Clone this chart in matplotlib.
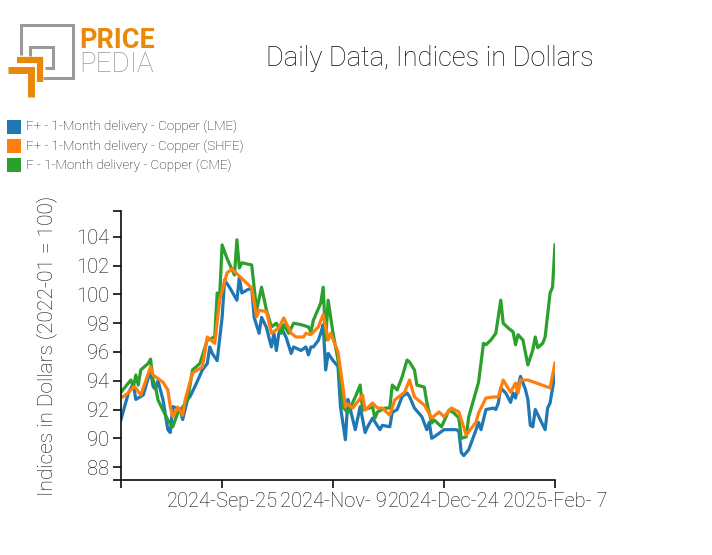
import matplotlib
matplotlib.use("Agg")
import matplotlib.pyplot as plt
from matplotlib.patches import Rectangle
from matplotlib.lines import Line2D
import pandas as pd

plt.rcParams['font.family'] = ['Roboto', 'DejaVu Sans']

START = pd.Timestamp("2024-08-15")
END = pd.Timestamp("2025-02-07")

# days after START
lme_days = [0, 3, 5, 6, 9, 12, 13, 14, 15, 17, 19, 20, 21, 24, 25, 27, 28, 30, 33, 35,
            36, 37, 39, 41, 42, 44, 47, 48, 49, 51, 53, 54, 56, 57, 59, 60, 61, 62, 63, 64,
            65, 67, 69, 70, 73, 75, 76, 77, 78, 80, 81, 82, 83, 84, 86, 88, 89, 91, 92, 93,
            95, 97, 99, 100, 102, 105, 106, 109, 110, 112, 114, 116, 117, 119, 122, 124, 125, 126, 127, 131,
            136, 137, 138, 139, 141, 144, 145, 146, 148, 151, 152, 153, 154, 156, 158, 159, 160, 162, 164, 165,
            166, 167, 168, 170, 172, 173, 174, 176]
lme = [91.3, 93.15, 93.8, 92.7, 93.0, 94.75, 93.6, 93.4, 94.0, 92.7, 90.6, 90.4, 92.2, 92.0, 91.3, 92.7, 92.9, 93.6, 94.75, 95.2,
       96.35, 95.9, 95.4, 98.4, 101.0, 100.5, 99.6, 101.2, 100.1, 100.3, 100.45, 98.4, 97.3, 98.4, 97.7, 97.0, 96.35, 97.3, 96.1, 97.3,
       97.7, 97.0, 95.9, 96.35, 96.1, 96.35, 95.8, 96.35, 96.35, 96.8, 97.3, 97.9, 94.75, 95.9, 95.4, 95.0, 92.2, 89.9, 92.7, 92.0,
       90.6, 92.2, 90.4, 90.8, 91.4, 90.6, 90.9, 90.8, 91.8, 92.0, 92.9, 93.15, 92.9, 92.1, 91.5, 90.6, 91.1, 90.0, 90.1, 90.6,
       90.6, 90.5, 89.0, 88.8, 89.2, 90.6, 91.1, 90.6, 92.0, 92.1, 92.0, 92.45, 93.5, 93.15, 92.5, 93.15, 92.8, 94.3, 93.4, 92.7,
       90.9, 90.8, 92.0, 91.3, 90.6, 92.1, 92.45, 94.5]

shfe_days = [0, 3, 5, 6, 8, 12, 13, 17, 19, 20, 21, 23, 25, 26, 29, 33, 35, 38, 40, 43,
             45, 53, 55, 56, 59, 61, 64, 66, 69, 71, 74, 75, 77, 80, 82, 84, 85, 88, 90, 91,
             92, 94, 98, 99, 102, 104, 106, 109, 111, 115, 117, 119, 123, 126, 129, 131, 134, 137, 140, 144,
             145, 148, 151, 153, 155, 158, 160, 161, 162, 165, 174, 176]
shfe = [92.8, 93.15, 93.56, 93.5, 93.0, 94.96, 94.4, 93.9, 93.36, 92.17, 91.5, 92.17, 91.6, 92.66, 94.54, 94.96, 97.04, 96.6, 99.6, 101.5,
        101.77, 100.45, 98.44, 98.9, 98.8, 97.3, 97.67, 98.37, 97.3, 97.04, 97.04, 97.3, 97.2, 97.74, 98.6, 96.83, 97.3, 96.0, 93.56, 92.17,
        92.38, 92.1, 93.0, 91.96, 92.45, 92.1, 92.1, 91.6, 92.66, 93.2, 94.05, 92.87, 92.31, 91.41, 91.83, 91.5, 92.1, 91.83, 90.22, 91.13,
        91.76, 92.8, 92.87, 92.87, 94.05, 93.2, 93.84, 93.15, 94.05, 94.05, 93.5, 95.23]

cme_days = [0, 4, 5, 6, 7, 8, 11, 12, 13, 14, 15, 19, 21, 23, 25, 27, 29, 32, 35, 38,
            39, 40, 41, 43, 46, 47, 48, 49, 53, 55, 57, 59, 61, 63, 65, 66, 68, 70, 73, 76,
            77, 78, 81, 82, 83, 84, 86, 88, 90, 92, 95, 97, 98, 102, 103, 104, 107, 109, 110, 112,
            114, 116, 117, 119, 120, 123, 124, 126, 127, 130, 133, 135, 137, 138, 140, 141, 145, 147, 148, 150,
            152, 154, 155, 157, 159, 160, 161, 163, 165, 167, 168, 169, 171, 172, 174, 175, 176]
cme = [93.2, 94.05, 93.56, 94.4, 93.7, 94.75, 95.2, 95.5, 94.05, 93.6, 92.66, 91.27, 90.8, 91.76, 92.17, 92.66, 94.75, 95.2, 96.83, 97.04,
       100.1, 99.8, 103.44, 102.5, 101.35, 103.8, 101.84, 102.2, 102.05, 98.9, 100.5, 98.9, 97.74, 98.0, 97.3, 97.9, 97.3, 98.0, 97.9, 97.74,
       97.4, 98.2, 99.4, 100.5, 96.83, 99.6, 97.3, 95.44, 92.17, 91.76, 92.87, 93.7, 91.96, 92.17, 91.41, 91.83, 92.1, 92.1, 93.7, 93.36,
       94.26, 95.44, 95.3, 94.75, 93.7, 93.56, 92.52, 91.06, 91.27, 90.8, 91.96, 91.76, 91.41, 90.0, 90.1, 91.48, 93.9, 96.6, 96.5, 96.83,
       97.3, 99.6, 98.0, 97.67, 97.4, 96.5, 97.2, 96.83, 95.1, 96.14, 97.04, 96.3, 96.6, 97.04, 100.1, 100.5, 103.44]

series = [
    ("F+ - 1-Month delivery - Copper (LME)", lme_days, lme, "#1f77b4"),
    ("F+ - 1-Month delivery - Copper (SHFE)", shfe_days, shfe, "#ff7f0e"),
    ("F - 1-Month delivery - Copper (CME)", cme_days, cme, "#2ca02c"),
]
tick_dates = ["2024-09-25", "2024-11-09", "2024-12-24", "2025-02-07"]
y_ticks = [88, 90, 92, 94, 96, 98, 100, 102, 104]
y_min, y_max = 87.1, 105.8

W, H = 712, 555
INK = "#0a0a0a"
fig = plt.figure(figsize=(W / 100, H / 100), dpi=100)
ax = fig.add_axes([121 / W, 1 - 480 / H, (555 - 121) / W, (480 - 211) / H])

# draw order: blue, green, orange on top
for idx in [0, 2, 1]:
    name, days, vals, col = series[idx]
    dates = START + pd.to_timedelta(days, unit="D")
    ax.plot(dates, vals, color=col, lw=2.3, solid_joinstyle="round")

ax.set_xlim(START, END)
ax.set_ylim(y_min, y_max)

xt = pd.to_datetime(tick_dates)
ax.set_xticks(list(xt) + [START])
ax.set_xticklabels([f"{d:%Y-%b}-{d.day:2d}" for d in xt] + [""])
ax.set_yticks(y_ticks + [y_min, y_max])
ax.set_yticklabels([str(v) for v in y_ticks] + ["", ""])
ax.tick_params(axis="both", length=6, width=1.2, direction="out", labelsize=14.5, pad=2.5, colors=INK)
for lab in ax.get_xticklabels() + ax.get_yticklabels():
    lab.set_fontweight("light")

for s in ["top", "right"]:
    ax.spines[s].set_visible(False)
for s in ["left", "bottom"]:
    ax.spines[s].set_linewidth(1.2)
    ax.spines[s].set_color(INK)

ax.set_ylabel("Indices in Dollars (2022-01 = 100)", fontsize=15, fontweight="light", color=INK)
ax.yaxis.set_label_coords((57 - 121) / 434, 0.5)

fig.text(430 / W, 1 - 58 / H, "Daily Data, Indices in Dollars", ha="center", va="center",
         fontsize=19.6, fontweight="light", color=INK)

# legend
for i, (name, days, vals, col) in enumerate(series):
    yc = 126.5 + i * 19.5
    fig.add_artist(Rectangle((7 / W, 1 - (yc + 7) / H), 14 / W, 14 / H,
                             transform=fig.transFigure, facecolor=col, edgecolor="none"))
    fig.text(26 / W, 1 - yc / H, name, ha="left", va="center", fontsize=9.6, fontweight="light",
             color=INK)

# logo
gray = "#9a9a9a"
orange = "#e8890c"
def seg(pts, color, lw):
    xs = [p[0] / W for p in pts]
    ys = [1 - p[1] / H for p in pts]
    fig.add_artist(Line2D(xs, ys, transform=fig.transFigure, color=color, lw=lw,
                          solid_capstyle="butt", solid_joinstyle="miter"))

seg([(21, 55), (21, 25), (73, 25), (73, 78), (43, 78)], gray, 2.2)
seg([(30, 56), (30, 47), (53, 47), (53, 68), (45, 68)], gray, 2.2)
seg([(17, 59.5), (40, 59.5), (40, 82)], orange, 4.5)
seg([(8, 69.5), (31.5, 69.5), (31.5, 97)], orange, 5)
fig.text(79 / W, 1 - 40 / H, "PRICE", ha="left", va="center", fontsize=19.5, fontweight="bold",
         color=orange)
fig.text(79 / W, 1 - 65 / H, "PEDIA", ha="left", va="center", fontsize=20, fontweight="light",
         color=gray)

fig.savefig("out.png", dpi=100)
